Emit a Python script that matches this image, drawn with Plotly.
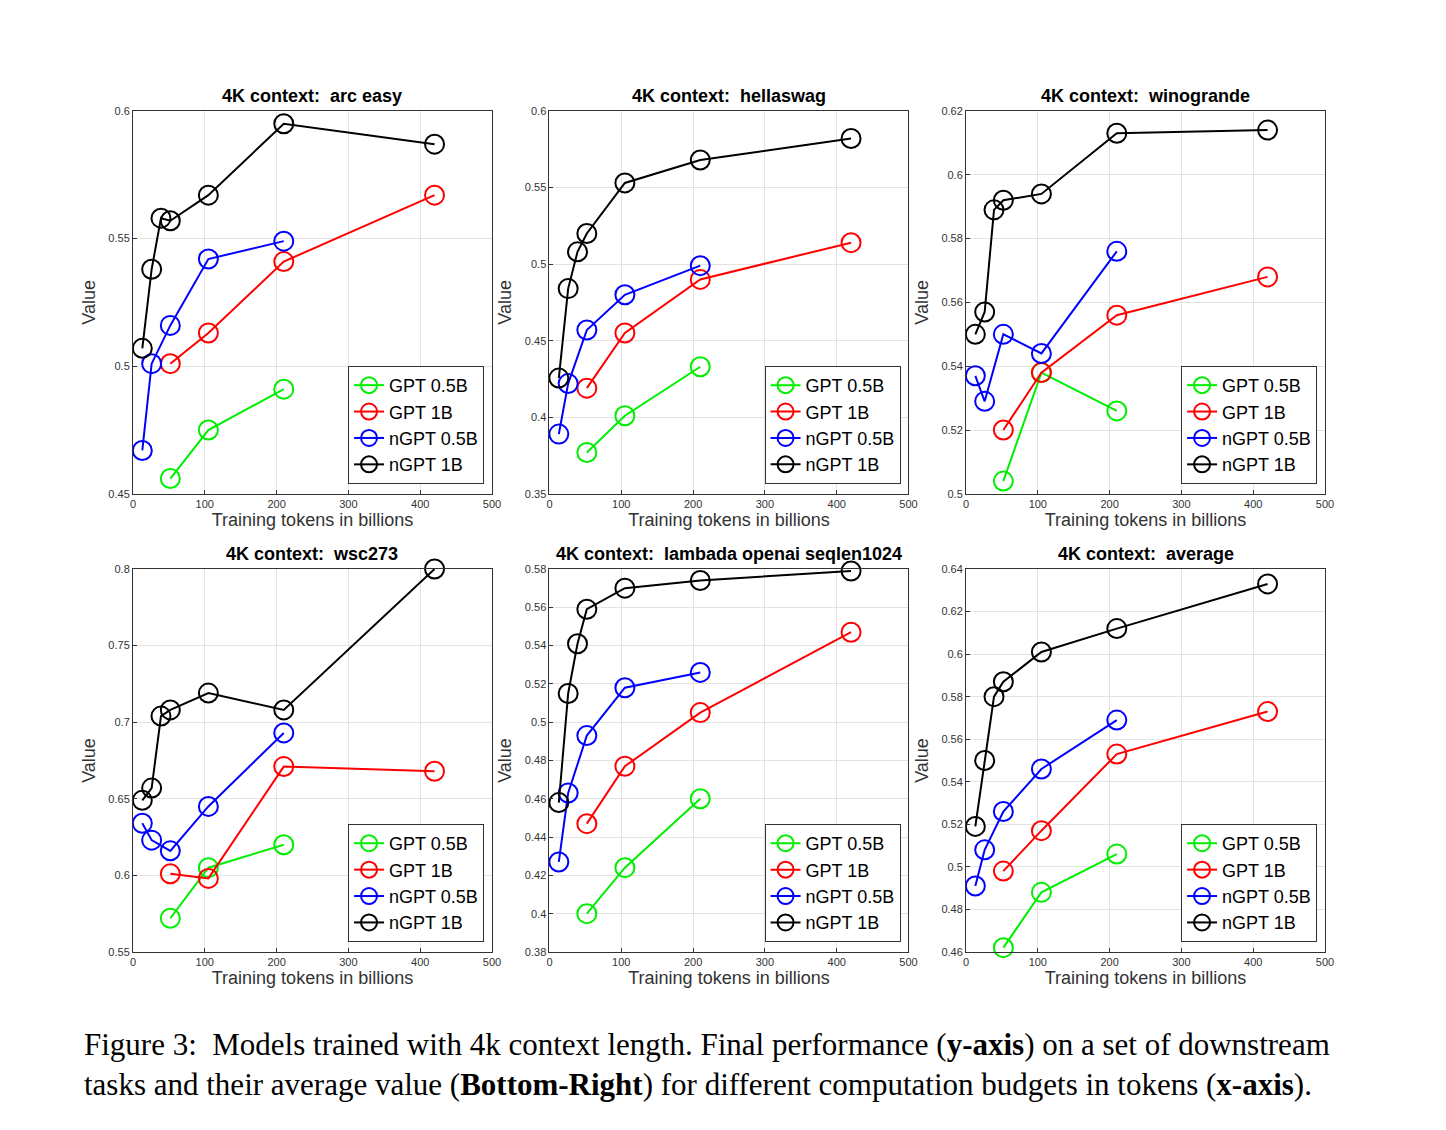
import plotly.graph_objects as go

# training tokens (billions)
x_ngpt1b = [13, 26, 39, 52, 105, 210, 420]
x_ngpt05b = [13, 26, 52, 105, 210]
x_gpt1b = [52, 105, 210, 420]
x_gpt05b = [52, 105, 210]

titles = ["4K context:  arc easy", "4K context:  hellaswag", "4K context:  winogrande",
          "4K context:  wsc273", "4K context:  lambada openai seqlen1024", "4K context:  average"]

gpt05b = [[0.456, 0.475, 0.491],
          [0.377, 0.401, 0.433],
          [0.504, 0.538, 0.526],
          [0.572, 0.605, 0.620],
          [0.400, 0.424, 0.460],
          [0.462, 0.488, 0.506]]
gpt1b = [[0.501, 0.513, 0.541, 0.567],
         [0.419, 0.455, 0.490, 0.514],
         [0.520, 0.538, 0.556, 0.568],
         [0.601, 0.598, 0.671, 0.668],
         [0.447, 0.477, 0.505, 0.547],
         [0.498, 0.517, 0.553, 0.573]]
ngpt05b = [[0.467, 0.501, 0.516, 0.542, 0.549],
           [0.389, 0.422, 0.457, 0.480, 0.499],
           [0.537, 0.529, 0.550, 0.544, 0.576],
           [0.634, 0.623, 0.616, 0.645, 0.693],
           [0.427, 0.463, 0.493, 0.518, 0.526],
           [0.491, 0.508, 0.526, 0.546, 0.569]]
ngpt1b = [[0.507, 0.538, 0.558, 0.557, 0.567, 0.595, 0.587],
          [0.4256, 0.484, 0.508, 0.520, 0.553, 0.568, 0.582],
          [0.550, 0.557, 0.589, 0.592, 0.594, 0.613, 0.614],
          [0.649, 0.657, 0.704, 0.708, 0.719, 0.708, 0.800],
          [0.458, 0.515, 0.541, 0.559, 0.570, 0.574, 0.579],
          [0.519, 0.550, 0.580, 0.587, 0.601, 0.612, 0.633]]

y_ranges = [(0.45, 0.6, 0.05), (0.35, 0.6, 0.05), (0.5, 0.62, 0.02),
            (0.55, 0.8, 0.05), (0.38, 0.58, 0.02), (0.46, 0.64, 0.02)]

W, H = 1446, 1130
OFF = 8  # page body margin
col_px = [(131 - OFF, 493 - OFF), (551 - OFF, 913 - OFF), (971 - OFF, 1333 - OFF)]
row_px = [(106 - OFF, 493 - OFF), (569 - OFF, 956 - OFF)]

fig = go.Figure()
series = [("GPT 0.5B", "#00ee00", x_gpt05b, gpt05b),
          ("GPT 1B", "#ff0000", x_gpt1b, gpt1b),
          ("nGPT 0.5B", "#0000ff", x_ngpt05b, ngpt05b),
          ("nGPT 1B", "#000000", x_ngpt1b, ngpt1b)]

for i in range(6):
    r, c = divmod(i, 3)
    ax = "" if i == 0 else str(i + 1)
    lg = "legend" if i == 0 else "legend%d" % (i + 1)
    x0, x1 = col_px[c]
    y0, y1 = row_px[r]
    for name, color, xs, ys in series:
        fig.add_trace(go.Scatter(
            x=xs, y=ys[i], name=name, mode="lines+markers", cliponaxis=False,
            line=dict(color=color, width=2),
            marker=dict(symbol="circle-open", size=19, color=color, line=dict(width=2)),
            xaxis="x" + ax, yaxis="y" + ax, legend=lg))
    lo, hi, st = y_ranges[i]
    fig.layout["xaxis" + ax] = dict(
        domain=[x0 / W, x1 / W], range=[0, 500], dtick=100, anchor="y" + ax,
        showline=True, mirror=True, linecolor="#333", linewidth=1,
        ticks="inside", ticklen=4, tickcolor="#333",
        showgrid=True, gridcolor="#e3e3e3", zeroline=False,
        tickfont=dict(size=11, color="#333"),
        title=dict(text="Training tokens in billions", font=dict(size=18, color="#333"), standoff=4))
    fig.layout["yaxis" + ax] = dict(
        domain=[1 - y1 / H, 1 - y0 / H], range=[lo, hi], dtick=st, tick0=lo, anchor="x" + ax,
        showline=True, mirror=True, linecolor="#333", linewidth=1,
        ticks="inside", ticklen=4, tickcolor="#333",
        showgrid=True, gridcolor="#e3e3e3", zeroline=False,
        tickfont=dict(size=11, color="#333"),
        title=dict(text="Value", font=dict(size=18, color="#333"), standoff=8))
    fig.layout[lg] = dict(
        x=(x1 - 8) / W, y=1 - (y1 - 10) / H, xanchor="right", yanchor="bottom",
        bgcolor="white", bordercolor="#333", borderwidth=1,
        font=dict(size=18, color="black"), tracegroupgap=0, itemwidth=30)
    fig.add_annotation(text="<b>%s</b>" % titles[i], xref="paper", yref="paper",
                       x=(x0 + x1) / 2 / W, y=1 - (y0 - 3) / H, xanchor="center", yanchor="bottom",
                       showarrow=False, font=dict(size=18, color="black"))

fig.add_annotation(
    text="Figure 3:  Models trained with 4k context length. Final performance (<b>y-axis</b>) on a set of downstream<br>"
         "tasks and their average value (<b>Bottom-Right</b>) for different computation budgets in tokens (<b>x-axis</b>).",
    xref="paper", yref="paper", x=(80 - OFF) / W, y=1 - (1030 - OFF) / H, xanchor="left", yanchor="top",
    align="left", showarrow=False,
    font=dict(family="Liberation Serif, Times New Roman, serif", size=31, color="black"))

fig.update_layout(width=W, height=H, margin=dict(l=0, r=0, t=0, b=0),
                  paper_bgcolor="white", plot_bgcolor="white",
                  font=dict(family="Liberation Sans, Arial, sans-serif"))
fig.write_html("out.html")
